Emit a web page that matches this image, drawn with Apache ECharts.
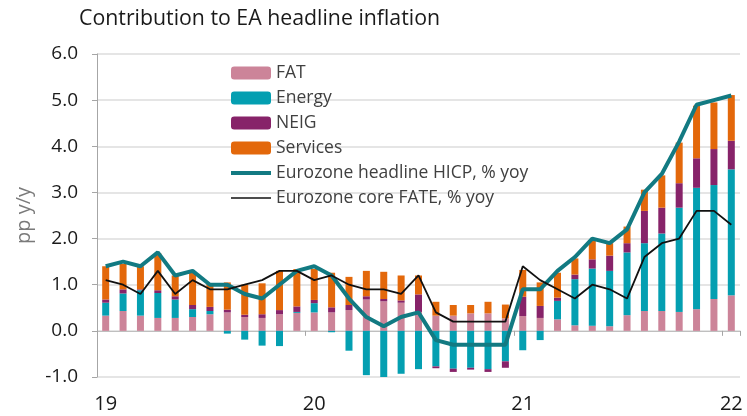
<!DOCTYPE html>
<html>
<head>
<meta charset="utf-8">
<script src="https://cdn.jsdelivr.net/npm/echarts@6/dist/echarts.min.js"></script>
<style>
  html, body { margin: 0; padding: 0; background: #fff; }
  #main { width: 747px; height: 416px; }
</style>
</head>
<body>
<div id="main"></div>
<script>
// months Jan 2019 .. Jan 2022
var months = [];
for (var y = 2019; y <= 2022; y++) {
    for (var m = 1; m <= 12; m++) {
        if (y === 2022 && m > 1) break;
        months.push(y + "-" + (m < 10 ? "0" + m : m));
    }
}

// contributions, pp
var fat = [0.33, 0.43, 0.33, 0.28, 0.28, 0.30, 0.36, 0.40, 0.30, 0.28, 0.36, 0.39,
           0.40, 0.40, 0.45, 0.68, 0.64, 0.61, 0.41, 0.33, 0.33, 0.38, 0.38, 0.27,
           0.32, 0.28, 0.25, 0.12, 0.11, 0.10, 0.34, 0.43, 0.43, 0.41, 0.47, 0.69,
           0.77];
var energy = [0.28, 0.38, 0.55, 0.54, 0.40, 0.17, 0.07, -0.06, -0.19, -0.32, -0.33, 0.02,
              0.20, -0.03, -0.43, -0.96, -1.03, -0.93, -0.83, -0.77, -0.82, -0.80, -0.83, -0.66,
              -0.42, -0.20, 0.40, 1.00, 1.24, 1.20, 1.36, 1.47, 1.68, 2.26, 2.63, 2.47,
              2.73];
var neig = [0.07, 0.09, 0.02, 0.06, 0.07, 0.09, 0.09, 0.06, 0.05, 0.08, 0.09, 0.12,
            0.07, 0.11, 0.11, 0.07, 0.05, 0.05, 0.38, -0.04, -0.07, -0.04, -0.06, -0.14,
            0.42, 0.26, 0.07, 0.10, 0.20, 0.33, 0.20, 0.70, 0.56, 0.53, 0.64, 0.78,
            0.62];
var services = [0.72, 0.55, 0.50, 0.80, 0.45, 0.72, 0.51, 0.59, 0.65, 0.67, 0.85, 0.81,
                0.67, 0.75, 0.61, 0.55, 0.59, 0.54, 0.41, 0.30, 0.23, 0.18, 0.25, 0.30,
                0.58, 0.51, 0.54, 0.35, 0.42, 0.27, 0.36, 0.46, 0.70, 0.88, 1.14, 1.01,
                0.99];

// % yoy
var hicp = [1.4, 1.5, 1.4, 1.7, 1.2, 1.3, 1.0, 1.0, 0.8, 0.7, 1.0, 1.3,
            1.4, 1.2, 0.7, 0.3, 0.1, 0.3, 0.4, -0.2, -0.3, -0.3, -0.3, -0.3,
            0.9, 0.9, 1.3, 1.6, 2.0, 1.9, 2.2, 3.0, 3.4, 4.1, 4.9, 5.0,
            5.1];
var core = [1.1, 1.0, 0.8, 1.3, 0.8, 1.1, 0.9, 0.9, 1.0, 1.1, 1.3, 1.3,
            1.1, 1.2, 1.0, 0.9, 0.9, 0.8, 1.2, 0.4, 0.2, 0.2, 0.2, 0.2,
            1.4, 1.1, 0.9, 0.7, 1.0, 0.9, 0.7, 1.6, 1.9, 2.0, 2.6, 2.6,
            2.3];

var font = "'Open Sans', sans-serif";
var hicpColor = "#127a82";
var coreColor = "#111111";
var isJan = function (idx) { return idx % 12 === 0; };

function barSeries(name, data, color) {
    return {
        name: name,
        type: "bar",
        stack: "contrib",
        barWidth: 7,
        itemStyle: {color: color},
        data: data
    };
}

var chart = echarts.init(document.getElementById("main"));

chart.setOption({
    animation: false,
    textStyle: {fontFamily: font},
    title: {
        text: "Contribution to EA headline inflation",
        left: 74,
        top: 3,
        textStyle: {fontFamily: font, fontSize: 21.3, fontWeight: "normal", color: "#1a1a1a"}
    },
    legend: {
        orient: "vertical",
        left: 226,
        top: 59,
        itemWidth: 40,
        itemHeight: 13,
        itemGap: 7,
        textStyle: {fontFamily: font, fontSize: 17.5, lineHeight: 16.4, color: "#404040"},
        data: ["FAT", "Energy", "NEIG", "Services",
               {name: "Eurozone headline HICP, % yoy", icon: "path://M0,0L40,0L40,4L0,4Z",
                itemStyle: {color: hicpColor}},
               {name: "Eurozone core FATE, % yoy", icon: "path://M0,0L40,0L40,1.6L0,1.6Z",
                itemStyle: {color: coreColor}}]
    },
    grid: {left: 97, right: 7, top: 54, bottom: 39},
    xAxis: [{
        type: "category",
        data: months,
        position: "bottom",
        axisLine: {show: false, onZero: false},
        axisTick: {show: false},
        axisLabel: {
            interval: isJan,
            margin: 17,
            fontSize: 20,
            color: "#1a1a1a",
            formatter: function (v) { return v.slice(2, 4); }
        }
    }, {
        type: "category",
        data: months,
        position: "top",
        axisLine: {show: true, onZero: true, lineStyle: {color: "#bfbfbf"}},
        axisTick: {show: true, inside: true, length: 5, interval: isJan, lineStyle: {color: "#a6a6a6"}},
        axisLabel: {show: false}
    }],
    yAxis: {
        type: "value",
        min: -1,
        max: 6,
        interval: 1,
        name: "pp y/y",
        nameLocation: "middle",
        nameGap: 62,
        nameTextStyle: {fontSize: 20, color: "#7a7a7a"},
        axisLine: {show: true, lineStyle: {color: "#a6a6a6"}},
        axisTick: {show: true, length: 5, lineStyle: {color: "#a6a6a6"}},
        axisLabel: {
            fontSize: 19,
            color: "#1a1a1a",
            margin: 19,
            formatter: function (v) { return v.toFixed(1); }
        },
        splitLine: {lineStyle: {color: "#dcdcdc", width: 1.5}}
    },
    series: [
        barSeries("FAT", fat, "#cc8499"),
        barSeries("Energy", energy, "#049fb1"),
        barSeries("NEIG", neig, "#872369"),
        barSeries("Services", services, "#e3680b"),
        {
            name: "Eurozone headline HICP, % yoy",
            type: "line",
            symbol: "none",
            itemStyle: {color: hicpColor},
            lineStyle: {color: hicpColor, width: 4},
            data: hicp
        },
        {
            name: "Eurozone core FATE, % yoy",
            type: "line",
            symbol: "none",
            itemStyle: {color: coreColor},
            lineStyle: {color: coreColor, width: 1.8},
            data: core
        }
    ]
});
</script>
</body>
</html>
